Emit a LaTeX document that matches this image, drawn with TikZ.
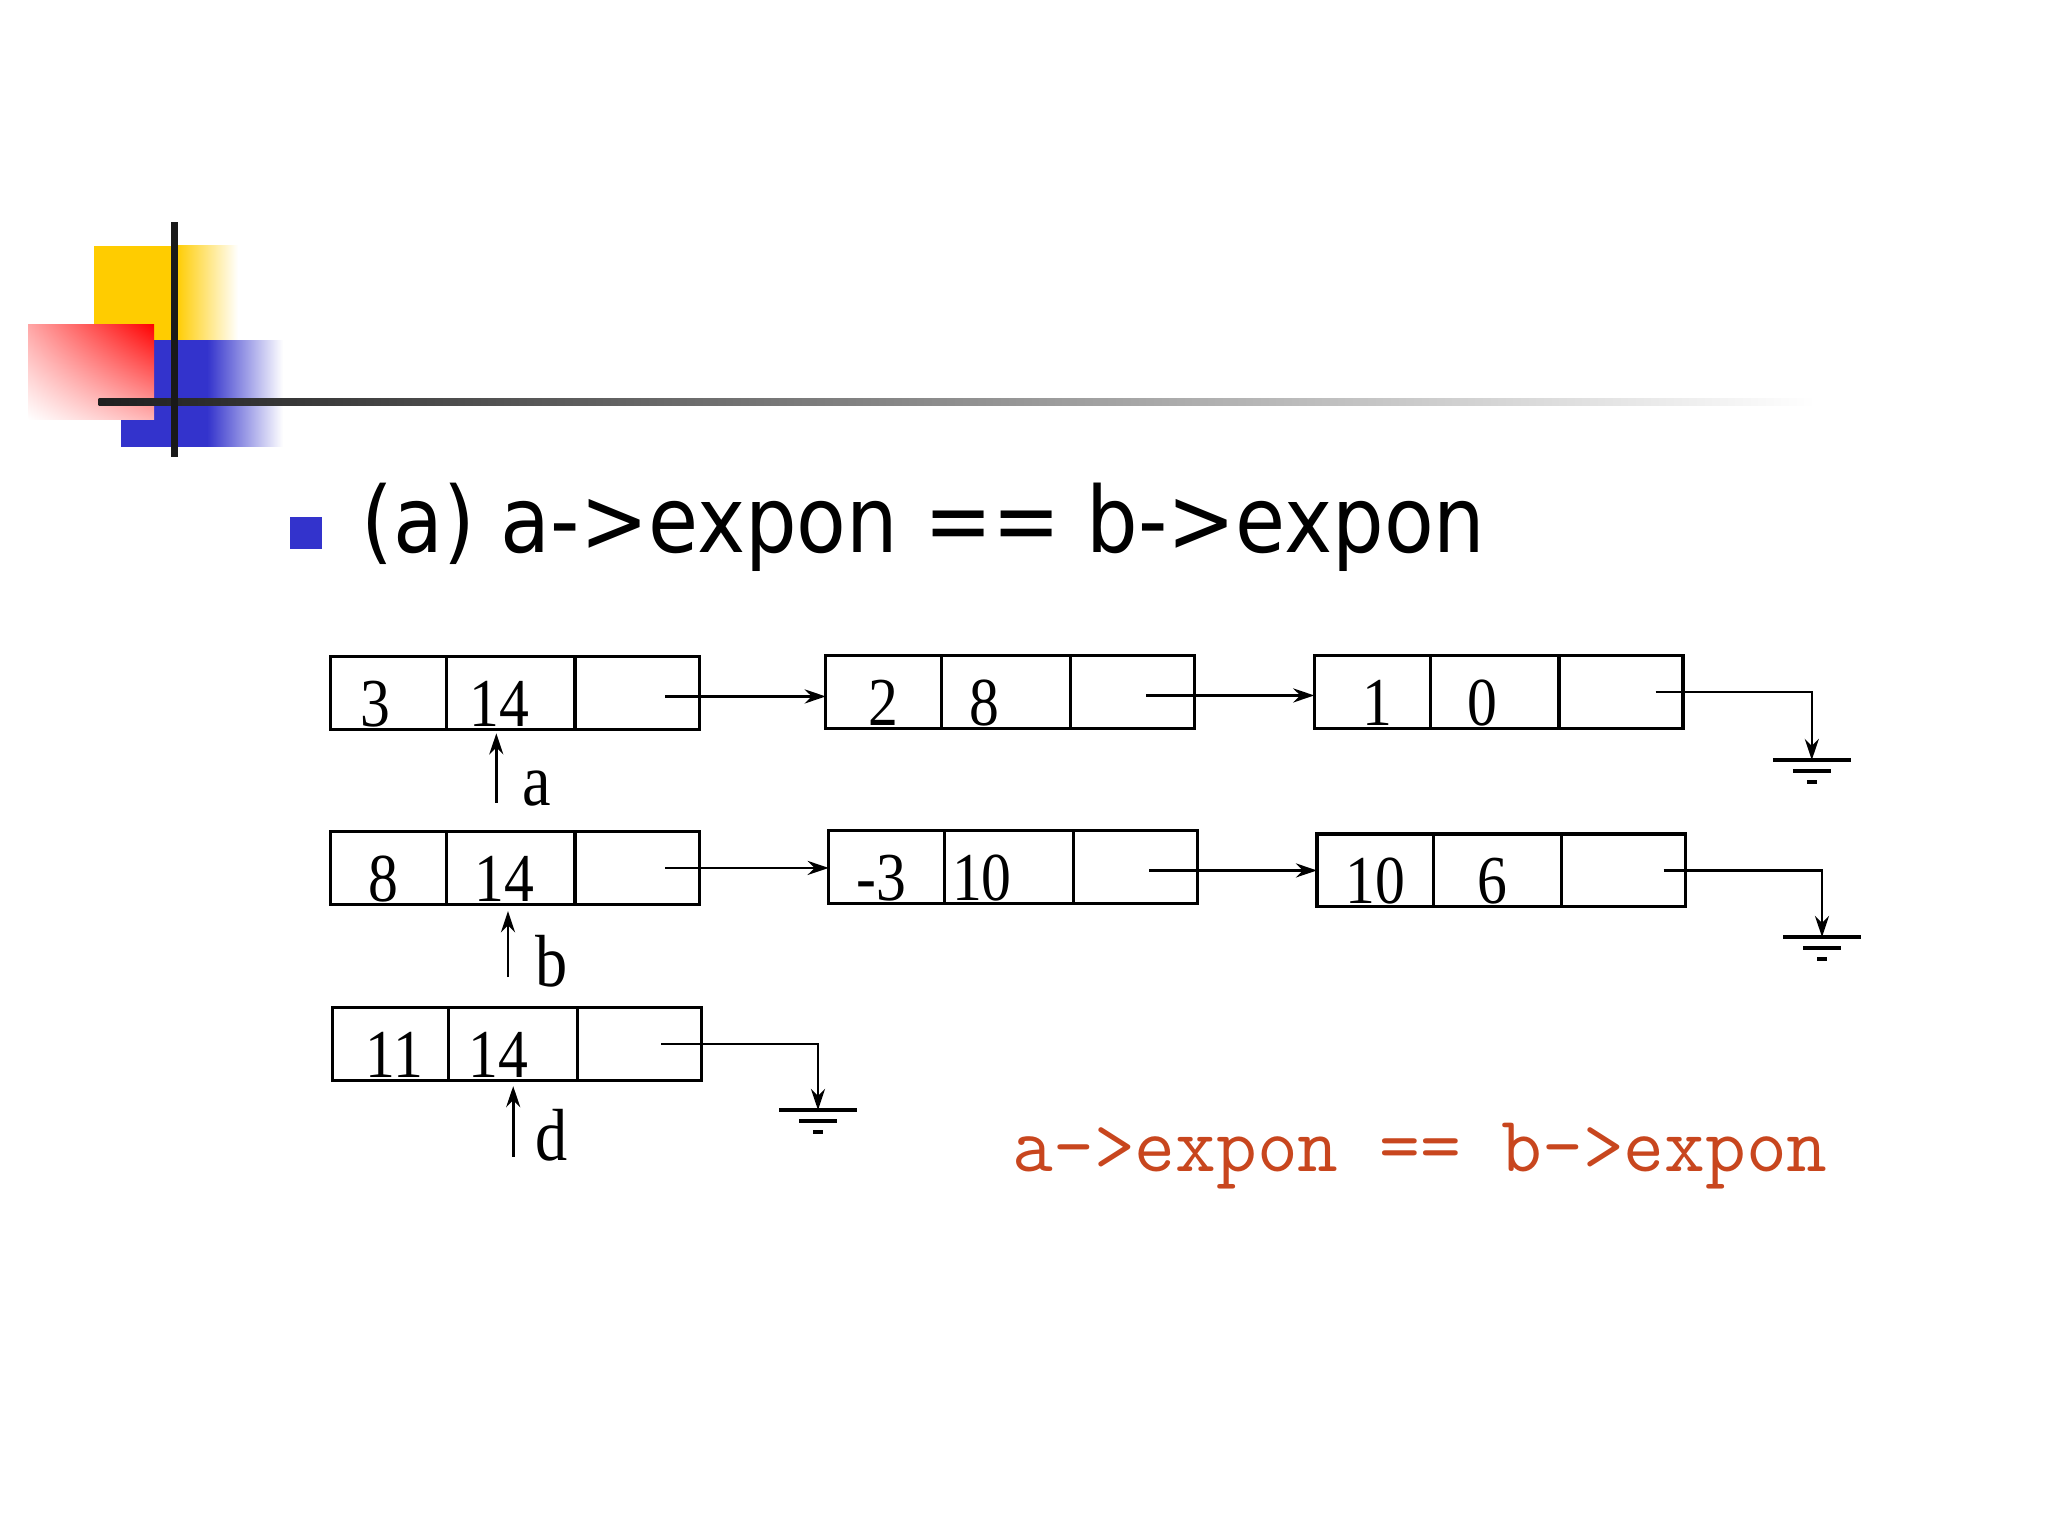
\documentclass[tikz,border=0pt]{standalone}
\usepackage{fontspec}
\usetikzlibrary{arrows.meta,positioning,shadings}
\newfontfamily\cellfont[FakeStretch=0.87]{Liberation Serif}
\newfontfamily\titlefont[FakeStretch=0.89]{DejaVu Sans}
\definecolor{slideyellow}{RGB}{255,204,0}
\definecolor{slideblue}{RGB}{51,51,204}
\definecolor{coderust}{RGB}{200,70,30}

\begin{document}
\begin{tikzpicture}[
    x=0.01cm, y=-0.01cm,
    cell/.style={draw,line width=0.9pt,inner xsep=0pt,inner ysep=0.7pt,outer sep=0pt,
        text height=19.2pt,text depth=0pt,font=\cellfont\fontsize{19.5pt}{19.5pt}\selectfont},
    coefbox/.style={cell,minimum width=1.16cm},
    exponbox/.style={cell,minimum width=1.285cm},
    linkbox/.style={cell,minimum width=1.24cm},
    ptr/.style={-{Stealth[length=6pt,width=4pt,inset=2pt]},line width=0.75pt},
    varname/.style={anchor=base,inner sep=0pt,font=\cellfont\fontsize{21pt}{21pt}\selectfont},
    earth/.pic={
        \draw[line width=0.9pt] (-39,0) -- (39,0);
        \draw[line width=0.9pt] (-19,11) -- (19,11);
        \draw[line width=0.9pt] (-5,22) -- (5,22);
    }
]
    \useasboundingbox (0,0) rectangle (2048,1536);

    % Slide decoration
    \fill[slideyellow] (93.8,245.7) rectangle (176,340);
    \shade[left color=slideyellow,right color=white] (176,245.7) rectangle (238,340);
    \fill[slideblue] (121,340) rectangle (207,446.7);
    \shade[left color=slideblue,right color=white] (207,340) rectangle (283,446.7);
    \shade[upper left=red!35,upper right=red,lower left=white,lower right=red!30] (28,324) rectangle (154,419.3);
    \shade[left color=black!88,middle color=black!55,right color=white] (98.7,398.8) rectangle (1815,405.8);
    \fill[black!90] (170.5,222) rectangle (177.5,457);

    % Title
    \fill[slideblue] (290,516.7) rectangle (321.8,549);
    \node[anchor=base west,inner sep=0pt,font=\titlefont\fontsize{26pt}{26pt}\selectfont] (title) at (361,552.7) {(a) a->expon == b->expon};

    % List a
    \node[coefbox,anchor=north west] (a1coef) at (330.4,656.7) {3\hspace*{7.4pt}};
    \node[exponbox,right=0pt of a1coef] (a1expon) {14\hspace*{6.3pt}};
    \node[linkbox,right=0pt of a1expon] (a1link) {};
    \node[coefbox,anchor=north west] (b1coef) at (825.8,655.7) {2};
    \node[exponbox,right=0pt of b1coef] (b1expon) {8\hspace*{12.5pt}};
    \node[linkbox,right=0pt of b1expon] (b1link) {};
    \node[coefbox,anchor=north west] (c1coef) at (1314.3,655.7) {1\hspace*{-2.8pt}};
    \node[exponbox,right=0pt of c1coef] (c1expon) {0\hspace*{6.8pt}};
    \node[linkbox,right=0pt of c1expon] (c1link) {};

    % List b
    \node[coefbox,anchor=north west] (a2coef) at (330.4,831.7) {8\hspace*{2.8pt}};
    \node[exponbox,right=0pt of a2coef] (a2expon) {14\hspace*{3.4pt}};
    \node[linkbox,right=0pt of a2expon] (a2link) {};
    \node[coefbox,anchor=north west] (b2coef) at (828.7,830.7) {-3\hspace*{2.8pt}};
    \node[exponbox,right=0pt of b2coef] (b2expon) {10\hspace*{15.4pt}};
    \node[linkbox,right=0pt of b2expon] (b2link) {};
    \node[coefbox,anchor=north west] (c2coef) at (1317,834) {10};
    \node[exponbox,right=0pt of c2coef] (c2expon) {6\hspace*{2.8pt}};
    \node[linkbox,right=0pt of c2expon] (c2link) {};

    % List d
    \node[coefbox,anchor=north west] (a3coef) at (332.5,1007.7) {11\hspace*{-2.3pt}};
    \node[exponbox,right=0pt of a3coef] (a3expon) {14\hspace*{8pt}};
    \node[linkbox,right=0pt of a3expon] (a3link) {};

    % Links
    \draw[ptr] ([xshift=0.28cm,yshift=-1pt]a1link.center) -- ([yshift=-1pt]a1link.center -| b1coef.west);
    \draw[ptr] ([xshift=0.14cm,yshift=-1pt]b1link.center) -- ([yshift=-1pt]b1link.center -| c1coef.west);
    \draw[ptr] ([xshift=0.28cm]a2link.center) -- (a2link.center -| b2coef.west);
    \draw[ptr] ([xshift=0.14cm,yshift=-1pt]b2link.center) -- ([yshift=-1pt]b2link.center -| c2coef.west);

    % Null ends
    \coordinate (g1) at (1811.8,760);
    \coordinate (g2) at (1822,937);
    \coordinate (g3) at (818,1110);
    \draw[ptr] ([xshift=0.345cm]c1link.center) -| (g1);
    \draw[ptr] ([xshift=0.4cm]c2link.center) -| (g2);
    \draw[ptr] ([xshift=0.22cm]a3link.center) -| (g3);
    \pic at (g1) {earth};
    \pic at (g2) {earth};
    \pic at (g3) {earth};

    % Pointers
    \coordinate (pa) at (496.3,802.7);
    \coordinate (pb) at (508,977);
    \coordinate (pd) at (513.2,1156.7);
    \draw[ptr,shorten >=1.2pt] (pa) -- (pa |- a1expon.south);
    \draw[ptr,shorten >=2pt] (pb) -- (pb |- a2expon.south);
    \draw[ptr,shorten >=1.7pt] (pd) -- (pd |- a3expon.south);
    \node[varname] (na) at (537,805) {a};
    \node[varname] (nb) at (552,986) {b};
    \node[varname] (nd) at (551.7,1160) {d};

    % Condition
    \node[anchor=base west,inner sep=0pt,text=coderust,font=\ttfamily\fontsize{22.5pt}{22.5pt}\selectfont] (cond) at (1012,1171.7) {a->expon == b->expon};
\end{tikzpicture}
\end{document}
